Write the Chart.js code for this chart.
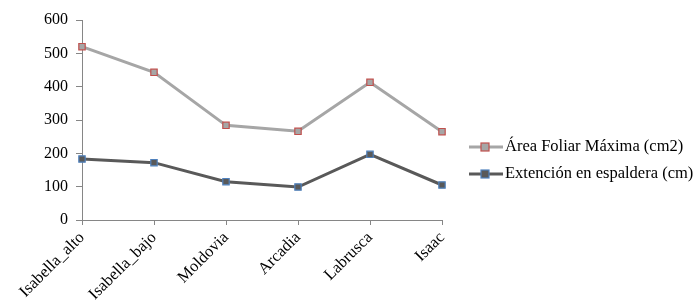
<!DOCTYPE html>
<html>
<head>
<meta charset="utf-8">
<script src="https://cdn.jsdelivr.net/npm/chart.js@4"></script>
<style>
	html, body { margin: 0; padding: 0; background: #fff; }
	#wrap { width: 700px; height: 308px; }
</style>
</head>
<body>
<div id="wrap"><canvas id="chrt" width="700" height="308"></canvas></div>
<script>
var variedades = ['Isabella_alto', 'Isabella_bajo', 'Moldovia', 'Arcadia', 'Labrusca', 'Isaac'];
var areaFoliar = [520, 443, 284, 266, 413, 265];
var extencion = [183, 172, 115, 99, 197, 105];
var yTicks = [0, 100, 200, 300, 400, 500, 600];

var serif = "'Liberation Serif', 'Times New Roman', serif";

// leyenda dibujada a mano: linea + cuadrado + texto
var leyenda = {
	id: 'leyenda',
	afterDraw: function (chart) {
		var ctx = chart.ctx;
		var x0 = 469, x1 = 503;
		var ys = [147, 174];
		chart.data.datasets.forEach(function (ds, i) {
			var y = ys[i];
			ctx.save();
			ctx.strokeStyle = ds.borderColor;
			ctx.lineWidth = 3;
			ctx.beginPath();
			ctx.moveTo(x0, y);
			ctx.lineTo(x1, y);
			ctx.stroke();
			ctx.fillStyle = ds.pointBackgroundColor;
			ctx.fillRect(x0 + 12, y - 4, 8, 8);
			ctx.strokeStyle = ds.pointBorderColor;
			ctx.lineWidth = 1.2;
			ctx.strokeRect(x0 + 12, y - 4, 8, 8);
			ctx.fillStyle = '#000';
			ctx.font = '16.5px ' + serif;
			ctx.textBaseline = 'middle';
			ctx.textAlign = 'left';
			ctx.fillText(ds.label, x1 + 2, y);
			ctx.restore();
		});
	}
};

new Chart(document.getElementById('chrt').getContext('2d'), {
	type: 'line',
	data: {
		labels: variedades,
		datasets: [
			{
				label: 'Área Foliar Máxima (cm2)',
				data: areaFoliar,
				borderColor: '#a6a6a6',
				borderWidth: 3,
				pointStyle: 'rect',
				pointRadius: 4.5,
				pointBackgroundColor: '#a6a6a6',
				pointBorderColor: '#c0504d',
				pointBorderWidth: 1.2,
				tension: 0
			},
			{
				label: 'Extención en espaldera (cm)',
				data: extencion,
				borderColor: '#595959',
				borderWidth: 3,
				pointStyle: 'rect',
				pointRadius: 4.5,
				pointBackgroundColor: '#595959',
				pointBorderColor: '#4f81bd',
				pointBorderWidth: 1.2,
				tension: 0
			}
		]
	},
	options: {
		responsive: false,
		animation: false,
		layout: { padding: { top: 20, right: 258, left: 0, bottom: 0 } },
		plugins: {
			legend: { display: false },
			tooltip: { enabled: false }
		},
		scales: {
			x: {
				offset: false,
				afterFit: function (s) { s.height = 88; },
				border: { color: '#868686', width: 1 },
				grid: { drawOnChartArea: false, drawTicks: true, tickLength: 5, color: '#868686' },
				ticks: {
					minRotation: 45,
					maxRotation: 45,
					padding: 3,
					color: '#000',
					font: { family: serif, size: 16.5 }
				}
			},
			y: {
				min: 0,
				max: 600,
				afterFit: function (s) { s.width = 82; },
				afterBuildTicks: function (s) { s.ticks = yTicks.map(function (v) { return { value: v }; }); },
				border: { color: '#868686', width: 1 },
				grid: { drawOnChartArea: false, drawTicks: true, tickLength: 6, color: '#868686' },
				ticks: {
					padding: 8,
					color: '#000',
					font: { family: serif, size: 16 }
				}
			}
		}
	},
	plugins: [leyenda]
});
</script>
</body>
</html>
